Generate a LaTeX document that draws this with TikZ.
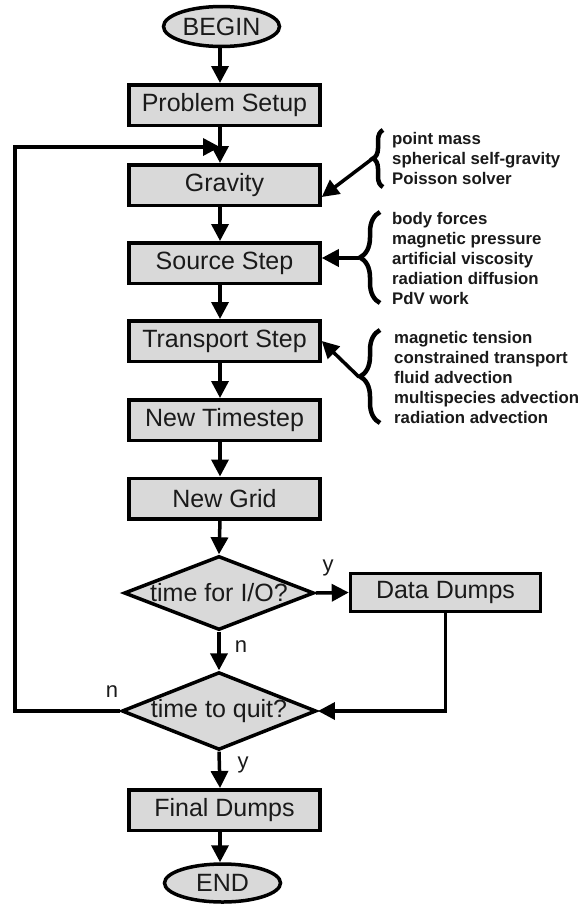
\documentclass[tikz,border=0pt]{standalone}
\usepackage{fontspec}
\setmainfont{Liberation Sans}
\usetikzlibrary{shapes.geometric,arrows.meta,decorations.pathreplacing}
\definecolor{boxgray}{HTML}{D9D9D9}
\definecolor{ink}{HTML}{1A1A1A}
\begin{document}
\begin{tikzpicture}[x=1pt,y=-1pt,
  every node/.style={text=ink},
  bigfont/.style={font=\fontsize{25}{29}\selectfont},
  procbox/.style={draw=black, line width=3.5pt, fill=boxgray, minimum width=191pt, minimum height=40.5pt, inner sep=0pt, bigfont},
  term/.style={ellipse, draw=black, line width=3.5pt, fill=boxgray, minimum width=116pt, minimum height=40pt, inner sep=0pt, bigfont},
  decision/.style={diamond, aspect=2.5, draw=black, line width=3.5pt, fill=boxgray, minimum width=190pt, minimum height=74pt, inner sep=0pt, bigfont},
  arr/.style={line width=3.5pt, -{Triangle[length=17pt,width=17pt]}},
  bracestyle/.style={line width=4.5pt, decorate, decoration={brace, amplitude=#1}},
  note/.style={anchor=west, align=left, inner sep=0pt, font=\fontsize{16.8}{20}\selectfont\bfseries},
  lbl/.style={font=\fontsize{22}{24}\selectfont, inner sep=0pt}
]
\fill[white] (0,0) rectangle (587,905);
\useasboundingbox (0,0) rectangle (587,905);

\coordinate (axis) at (220,0);

\node[term] (begin) at (221.5,26.5) {BEGIN};
\node[procbox] (ps) at (224.5,105) {Problem Setup};
\node[procbox] (grav) at (224.5,185) {Gravity};
\node[procbox] (src) at (224.5,263) {Source Step};
\node[procbox] (trans) at (224.5,341) {Transport Step};
\node[procbox] (nts) at (224.5,420) {New Timestep};
\node[procbox] (ngrid) at (224.5,498.5) {New Grid};
\node[decision] (io) at (219,593) {time for I/O?};
\node[procbox, minimum width=190pt, minimum height=38pt] (dd) at (445.5,592.5) {Data Dumps};
\node[decision] (quit) at (219,711) {time to quit?};
\node[procbox] (final) at (224.5,810) {Final Dumps};
\node[term, minimum height=38pt] (end) at (222.5,883) {END};

\draw[arr] (begin.south -| axis) -- (ps.north -| axis);
\draw[arr] (ps.south -| axis) -- (grav.north -| axis);
\draw[arr] (grav.south -| axis) -- (src.north -| axis);
\draw[arr] (src.south -| axis) -- (trans.north -| axis);
\draw[arr] (trans.south -| axis) -- (nts.north -| axis);
\draw[arr] (nts.south -| axis) -- (ngrid.north -| axis);
\draw[arr] (ngrid.south -| axis) -- (io.north);
\draw[arr] (io.south) -- (quit.north);
\draw[arr] (quit.south) -- (final.north -| axis);
\draw[arr] (final.south -| axis) -- (end.north -| axis);
\draw[arr] (io.east) -- (dd.west);
\draw[arr] (dd.south) |- (quit.east);

\coordinate (lt) at (15,147);
\coordinate (join) at (220,147);
\draw[arr] (quit.west) -| (lt) -- (join);

\node[lbl] (ly1) at (328,568) {y};
\node[lbl] (ln1) at (241,647) {n};
\node[lbl] (ln2) at (112,692) {n};
\node[lbl] (ly2) at (243,765) {y};

% annotations
\node[note] (n1) at (392,158) {point mass\\spherical self-gravity\\Poisson solver};
\draw[bracestyle=10pt] (383,187) -- (383,130);
\coordinate (t1) at (372,159);
\draw[arr] (t1) -- ([yshift=-12pt]grav.east);

\node[note] (n2) at (392,258) {body forces\\magnetic pressure\\artificial viscosity\\radiation diffusion\\PdV work};
\draw[bracestyle=20pt] (380,303) -- (380,212);
\coordinate (t2) at (359,258);
\draw[arr] (t2) -- (t2 -| src.east);

\node[note] (n3) at (394,377) {magnetic tension\\constrained transport\\fluid advection\\multispecies advection\\radiation advection};
\draw[bracestyle=20pt] (380,423) -- (380,330);
\coordinate (t3) at (359,377);
\draw[arr] (t3) -- (trans.east);
\end{tikzpicture}
\end{document}
